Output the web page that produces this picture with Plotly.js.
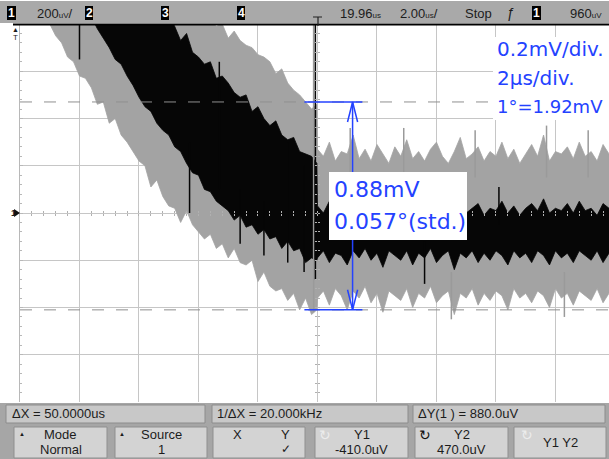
<!DOCTYPE html>
<html>
<head>
<meta charset="utf-8">
<script src="https://cdn.plot.ly/plotly-3.0.1.min.js"></script>
<style>
html,body{margin:0;padding:0;background:#ffffff;overflow:hidden;}
#chart{width:609px;height:459px;}
</style>
</head>
<body>
<div id="chart"></div>
<script>
// ---------------- DATA (time in µs, voltage in mV) ----------------
const timeUs = [-9.2,-9.0,-8.8,-8.6,-8.4,-8.2,-8.0,-7.8,-7.6,-7.4,-7.2,-7.0,-6.8,-6.6,-6.4,-6.2,-6.0,-5.8,-5.6,-5.4,-5.2,-5.0,-4.8,-4.6,-4.4,-4.2,-4.0,-3.8,-3.6,-3.4,-3.2,-3.0,-2.8,-2.6,-2.4,-2.2,-2.0,-1.8,-1.6,-1.4,-1.2,-1.0,-0.8,-0.6,-0.4,-0.2,-0.02,
  0.0,0.2,0.4,0.6,0.8,1.0,1.2,1.4,1.6,1.8,2.0,2.2,2.4,2.6,2.8,3.0,3.2,3.4,3.6,3.8,4.0,4.2,4.4,4.6,4.8,5.0,5.2,5.4,5.6,5.8,6.0,6.2,6.4,6.6,6.8,7.0,7.2,7.4,7.6,7.8,8.0,8.2,8.4,8.6,8.8,9.0,9.2,9.4,9.6,9.8];

// envelope of the grey (persistence) trace
const grayUpper = [0.90,0.90,0.90,0.90,0.90,0.90,0.90,0.90,0.90,0.90,0.90,0.90,0.90,0.90,0.90,0.90,0.90,0.90,0.90,0.90,0.90,0.90,0.90,0.90,0.90,0.90,0.90,
  0.84,0.81,0.79,0.80,0.74,0.77,0.73,0.71,0.70,0.67,0.66,0.64,0.59,0.61,0.55,0.52,0.50,0.47,0.44,0.46,
  0.27,0.24,0.30,0.22,0.26,0.25,0.33,0.23,0.27,0.22,0.29,0.25,0.21,0.28,0.24,0.31,0.23,0.26,0.22,0.27,0.30,0.24,0.21,0.26,0.32,0.23,0.25,0.28,0.22,0.26,0.24,0.30,0.23,0.27,0.21,0.25,0.29,0.24,0.33,0.22,0.26,0.25,0.28,0.23,0.30,0.24,0.26,0.22,0.29,0.25];
const grayLower = [0.90,0.80,0.75,0.72,0.66,0.64,0.58,0.57,0.53,0.46,0.47,0.38,0.40,0.33,0.30,0.26,0.22,0.20,0.11,0.14,0.07,0.03,0.02,-0.04,0.01,-0.05,-0.08,-0.11,-0.09,-0.15,-0.13,-0.19,-0.15,-0.21,-0.22,-0.20,-0.29,-0.25,-0.31,-0.33,-0.32,-0.37,-0.34,-0.41,-0.36,-0.43,-0.41,
  -0.36,-0.33,-0.39,-0.32,-0.35,-0.41,-0.33,-0.36,-0.31,-0.38,-0.34,-0.42,-0.33,-0.35,-0.37,-0.32,-0.40,-0.34,-0.36,-0.31,-0.38,-0.35,-0.33,-0.43,-0.34,-0.36,-0.32,-0.39,-0.34,-0.37,-0.33,-0.35,-0.41,-0.32,-0.36,-0.34,-0.38,-0.33,-0.35,-0.40,-0.32,-0.36,-0.34,-0.39,-0.33,-0.35,-0.37,-0.32,-0.38,-0.34];

// envelope of the black (live) trace
const blackUpper = [0.90,0.90,0.90,0.90,0.90,0.90,0.90,0.90,0.90,0.90,0.90,0.90,0.90,0.90,0.90,0.90,0.90,0.90,0.90,0.90,0.90,
  0.84,0.79,0.73,0.76,0.68,0.66,0.63,0.64,0.57,0.58,0.55,0.51,0.49,0.50,0.43,0.45,0.40,0.37,0.39,0.33,0.31,0.32,0.26,0.25,0.24,0.21,
  0.03,0.00,0.05,-0.01,0.02,0.01,0.06,0.00,0.03,-0.01,0.04,0.01,0.00,0.05,0.02,0.07,0.01,0.02,-0.01,0.03,0.05,0.01,0.00,0.02,0.06,0.00,0.02,0.04,-0.01,0.02,0.01,0.05,0.00,0.03,-0.01,0.02,0.04,0.01,0.06,0.00,0.02,0.01,0.04,0.00,0.05,0.01,0.02,-0.01,0.04,0.02];
const blackLower = [0.90,0.90,0.90,0.90,0.90,0.90,0.90,0.90,
  0.83,0.78,0.74,0.70,0.65,0.63,0.58,0.54,0.49,0.45,0.43,0.38,0.35,0.33,0.28,0.26,0.21,0.17,0.16,0.10,0.09,0.05,0.03,0.01,-0.03,-0.01,-0.06,-0.05,-0.09,-0.07,-0.11,-0.10,-0.15,-0.12,-0.16,-0.15,-0.21,-0.19,-0.20,
  -0.19,-0.16,-0.21,-0.17,-0.18,-0.22,-0.16,-0.19,-0.15,-0.20,-0.17,-0.23,-0.16,-0.18,-0.20,-0.16,-0.22,-0.17,-0.19,-0.15,-0.21,-0.18,-0.16,-0.24,-0.17,-0.19,-0.16,-0.21,-0.17,-0.20,-0.16,-0.18,-0.22,-0.16,-0.19,-0.17,-0.21,-0.16,-0.18,-0.22,-0.16,-0.19,-0.17,-0.21,-0.16,-0.18,-0.20,-0.16,-0.21,-0.17];

// isolated spikes
const blackSpikeT  = [-8.0, -4.3, -3.3, -2.6, -1.8, -1.0, -0.45, -0.07, 2.3, 3.6, 6.1];
const blackSpikeLo = [0.65, 0.00, 0.10, -0.13, -0.18, -0.21, -0.25, -0.28, -0.05, -0.30, -0.05];
const blackSpikeHi = [0.85, 0.30, 0.64, 0.10, 0.05, 0.30, 0.20, 0.85, 0.10, -0.12, 0.11];
const graySpikeT  = [-0.13, 1.1, 2.9, 4.5, 5.3, 7.7, 8.3, 9.1];
const graySpikeLo = [-0.42, 0.15, 0.15, -0.45, 0.15, 0.15, -0.44, 0.15];
const graySpikeHi = [0.85, 0.36, 0.36, -0.25, 0.35, 0.37, -0.25, 0.35];

// cursors (mV)
const cursorY1 = -0.41;
const cursorY2 = 0.47;

// text
const scaleNotes = ["0.2mV/div.", "2\u03bcs/div.", "1\u00b0=1.92mV"];
const measureNotes = ["0.88mV", "0.057\u00b0(std.)"];
const readouts = ["\u0394X = 50.0000us", "1/\u0394X = 20.000kHz", "\u0394Y(1 ) = 880.0uV"];
const softkeyTop = ["Mode", "Source", "", "Y1", "Y2", "Y1 Y2"];
const softkeyBottom = ["Normal", "1", "", "-410.0uV", "470.0uV", ""];

// ---------------- LAYOUT HELPERS ----------------
const W = 609, H = 459, ML = 20, MR = 0, MT = 24, MB = 57;
const PW = W - ML - MR, PH = H - MT - MB;
const px = v => (v - ML) / PW;          // pixel x -> paper
const py = v => (H - MB - v) / PH;      // pixel y -> paper

const GRAY = '#a3a3a3', BLACK = '#060606', BLUE = '#2442ff', UI = '#1c1c1c';
const UIFONT = 'Liberation Sans, Arial, sans-serif';
const BLUEFONT = 'DejaVu Sans, sans-serif';

function segs(T, lo, hi) {
  const x = [], y = [];
  T.forEach((t, i) => { x.push(t, t, null); y.push(lo[i], hi[i], null); });
  return {x, y};
}
const bs = segs(blackSpikeT, blackSpikeLo, blackSpikeHi);
const gs = segs(graySpikeT, graySpikeLo, graySpikeHi);

const traces = [
  {x: timeUs, y: grayLower, mode: 'lines', line: {width: 0.8, color: GRAY}, hoverinfo: 'skip', showlegend: false},
  {x: timeUs, y: grayUpper, mode: 'lines', fill: 'tonexty', fillcolor: GRAY, line: {width: 0.8, color: GRAY}, hoverinfo: 'skip', showlegend: false},
  {x: timeUs, y: blackLower, mode: 'lines', line: {width: 0.8, color: BLACK}, hoverinfo: 'skip', showlegend: false},
  {x: timeUs, y: blackUpper, mode: 'lines', fill: 'tonexty', fillcolor: BLACK, line: {width: 0.8, color: BLACK}, hoverinfo: 'skip', showlegend: false},
  {x: gs.x, y: gs.y, mode: 'lines', line: {width: 1.5, color: '#9a9a9a'}, hoverinfo: 'skip', showlegend: false},
  {x: bs.x, y: bs.y, mode: 'lines', line: {width: 1.5, color: BLACK}, hoverinfo: 'skip', showlegend: false},
  // anchors for the centre graticule tick axes
  {x: [0], y: [0], xaxis: 'x2', yaxis: 'y', mode: 'markers', marker: {size: 1, opacity: 0}, hoverinfo: 'skip', showlegend: false},
  {x: [0], y: [0], xaxis: 'x3', yaxis: 'y', mode: 'markers', marker: {size: 1, opacity: 0}, hoverinfo: 'skip', showlegend: false},
  {x: [0], y: [0], xaxis: 'x', yaxis: 'y2', mode: 'markers', marker: {size: 1, opacity: 0}, hoverinfo: 'skip', showlegend: false},
  {x: [0], y: [0], xaxis: 'x', yaxis: 'y3', mode: 'markers', marker: {size: 1, opacity: 0}, hoverinfo: 'skip', showlegend: false}
];

const XR = [-10, 9.8], YR = [-0.8, 0.8];
const tickAx = (extra) => Object.assign({showgrid: false, zeroline: false, showline: false, showticklabels: false,
  tickmode: 'linear', tick0: 0, ticks: 'inside', ticklen: 2, tickcolor: '#b0b0b0', tickwidth: 1, fixedrange: true}, extra);

const shapes = [];
const annotations = [];
function rectPx(x0, y0, x1, y1, fill, line, lw) {
  shapes.push({type: 'rect', xref: 'paper', yref: 'paper', x0: px(x0), x1: px(x1), y0: py(y1), y1: py(y0),
    fillcolor: fill, line: {color: line || fill, width: lw === undefined ? 0 : lw}, layer: 'above'});
}
function txt(text, x, y, size, opts) {
  opts = opts || {};
  annotations.push({text: text, x: px(x), y: py(y), xref: 'paper', yref: 'paper', showarrow: false,
    xanchor: opts.anchor || 'left', yanchor: 'middle',
    font: {family: opts.family || UIFONT, size: size, color: opts.color || UI}});
}

// cursor dashed lines
[cursorY1, cursorY2].forEach(v => shapes.push({type: 'line', xref: 'paper', yref: 'y', x0: 0, x1: 1, y0: v, y1: v,
  line: {color: '#8f8f8f', width: 1, dash: '12px,12px'}, layer: 'above'}));

// measurement marker (blue)
const mx = 1.18, hx0 = -0.44, hx1 = 1.51, ah = 0.17, av = 0.085;
shapes.push({type: 'line', xref: 'x', yref: 'y', x0: hx0, x1: hx1, y0: cursorY2, y1: cursorY2, line: {color: BLUE, width: 1.5}, layer: 'above'});
shapes.push({type: 'line', xref: 'x', yref: 'y', x0: hx0, x1: hx1, y0: cursorY1, y1: cursorY1, line: {color: BLUE, width: 1.5}, layer: 'above'});
shapes.push({type: 'line', xref: 'x', yref: 'y', x0: mx, x1: mx, y0: cursorY1, y1: cursorY2, line: {color: BLUE, width: 1.5}, layer: 'above'});
shapes.push({type: 'path', xref: 'x', yref: 'y', path: `M${mx-ah},${cursorY2-av} L${mx},${cursorY2} L${mx+ah},${cursorY2-av}`, line: {color: BLUE, width: 1.5}, layer: 'above'});
shapes.push({type: 'path', xref: 'x', yref: 'y', path: `M${mx-ah},${cursorY1+av} L${mx},${cursorY1} L${mx+ah},${cursorY1+av}`, line: {color: BLUE, width: 1.5}, layer: 'above'});

// white label boxes
rectPx(329, 172, 467, 240, '#ffffff');
rectPx(493, 37, 612, 120, '#ffffff');
txt(measureNotes[0], 332, 189, 22, {family: BLUEFONT, color: BLUE});
txt(measureNotes[1], 332, 221, 22, {family: BLUEFONT, color: BLUE});
txt(scaleNotes[0], 495, 49, 20, {family: BLUEFONT, color: BLUE});
txt(scaleNotes[1], 495, 78, 20, {family: BLUEFONT, color: BLUE});
txt(scaleNotes[2], 495, 106, 18, {family: BLUEFONT, color: BLUE});

// ---- top status bar ----
rectPx(0, 1, 612, 23, '#a9a9a9');
shapes.push({type: 'line', xref: 'paper', yref: 'paper', x0: px(13), x1: px(612), y0: py(24.5), y1: py(24.5), line: {color: '#000', width: 2}, layer: 'above'});
[[7, 16, '1'], [85, 93, '2'], [161, 169, '3'], [237, 245, '4'], [532, 541, '1']].forEach(b => {
  rectPx(b[0], 6, b[1], 20, '#000000');
  annotations.push({text: '<b>' + b[2] + '</b>', x: px((b[0] + b[1]) / 2), y: py(13), xref: 'paper', yref: 'paper', showarrow: false,
    xanchor: 'center', yanchor: 'middle', font: {family: UIFONT, size: 12, color: '#ffffff'}});
});
const sm = s => "<span style='font-size:8px'>" + s + "</span>";
txt('200' + sm('uV') + '/', 35, 13, 13);
txt('19.96' + sm('us'), 338, 13, 13);
txt('2.00' + sm('us') + '/', 398, 13, 13);
txt('Stop', 463, 13, 13);
txt('\u0192', 505, 13, 14);
txt('960' + sm('uV'), 568, 13, 13);
// trigger position marker
shapes.push({type: 'path', xref: 'paper', yref: 'paper', path: `M${px(313)},${py(17)} L${px(322)},${py(17)} M${px(318)},${py(17)} L${px(318)},${py(26)}`, line: {color: '#222', width: 1.2}, layer: 'above'});
// ground marker and trigger level marker on the left
txt('<b>1</b>', 9, 213, 9);
shapes.push({type: 'path', xref: 'paper', yref: 'paper', path: `M${px(14)},${py(209)} L${px(20)},${py(213)} L${px(14)},${py(217)} Z`, fillcolor: '#111', line: {color: '#111', width: 0}, layer: 'above'});
txt('\u25b2', 15, 29, 7, {anchor: 'center'});
txt('T', 15, 37, 8, {anchor: 'center'});

// ---- bottom soft-key area ----
rectPx(0, 403, 612, 460, '#a6a6a6');
rectPx(6, 405, 205, 423, '#c8c8c8', '#8c8c8c', 1);
rectPx(212, 405, 408, 423, '#c8c8c8', '#8c8c8c', 1);
rectPx(413, 405, 605, 423, '#c8c8c8', '#8c8c8c', 1);
txt(readouts[0], 10, 414, 13);
txt(readouts[1], 215, 414, 13);
txt(readouts[2], 416, 414, 13);
const keyX = [[14, 107], [115, 207], [213, 305], [315, 408], [415, 508], [514, 606]];
keyX.forEach((k, i) => {
  rectPx(k[0], 427, k[1], 458, '#d3d3d3', '#8f8f8f', 1);
  const c = (k[0] + k[1]) / 2;
  if (i === 5) { txt(softkeyTop[i], c, 442, 13, {anchor: 'center'}); }
  else if (softkeyTop[i]) {
    txt(softkeyTop[i], c, 435, 13, {anchor: 'center'});
    txt(softkeyBottom[i], c, 449, 13, {anchor: 'center'});
  }
});
txt('\u25b2', 22, 434, 6, {anchor: 'center'});
txt('\u25b2', 122, 434, 6, {anchor: 'center'});
txt('X', 237, 435, 13, {anchor: 'center'});
txt('Y', 285, 435, 13, {anchor: 'center'});
txt('\u2713', 286, 449, 12, {anchor: 'center'});
txt('\u21bb', 325, 435, 14, {anchor: 'center', color: '#ececec'});
txt('\u21bb', 425, 435, 14, {anchor: 'center', color: '#111'});
txt('\u21bb', 527, 435, 14, {anchor: 'center', color: '#ececec'});

const layout = {
  width: W, height: H,
  margin: {l: ML, r: MR, t: MT, b: MB, pad: 0},
  paper_bgcolor: '#ffffff', plot_bgcolor: '#ffffff',
  showlegend: false,
  xaxis: {range: XR, tickmode: 'linear', tick0: 0, dtick: 2, showgrid: true, gridcolor: '#c6c6c6', gridwidth: 1,
    zeroline: false, showticklabels: false, ticks: '', showline: false, fixedrange: true},
  yaxis: {range: YR, tickmode: 'linear', tick0: 0, dtick: 0.2, showgrid: true, gridcolor: '#c6c6c6', gridwidth: 1,
    zeroline: false, showticklabels: false, showline: true, linecolor: '#b8b8b8', linewidth: 1,
    ticks: 'inside', ticklen: 3, tickcolor: '#b8b8b8',
    minor: {tickmode: 'linear', dtick: 0.04, ticks: 'inside', ticklen: 2, tickcolor: '#b8b8b8'}, fixedrange: true},
  xaxis2: tickAx({overlaying: 'x', anchor: 'free', position: 0.5, range: XR, dtick: 0.4, side: 'bottom'}),
  xaxis3: tickAx({overlaying: 'x', anchor: 'free', position: 0.5, range: XR, dtick: 0.4, side: 'top'}),
  yaxis2: tickAx({overlaying: 'y', anchor: 'free', position: 10 / 19.8, range: YR, dtick: 0.04, side: 'left'}),
  yaxis3: tickAx({overlaying: 'y', anchor: 'free', position: 10 / 19.8, range: YR, dtick: 0.04, side: 'right'}),
  shapes: shapes,
  annotations: annotations
};

Plotly.newPlot('chart', traces, layout, {staticPlot: true, displayModeBar: false});
</script>
</body>
</html>
